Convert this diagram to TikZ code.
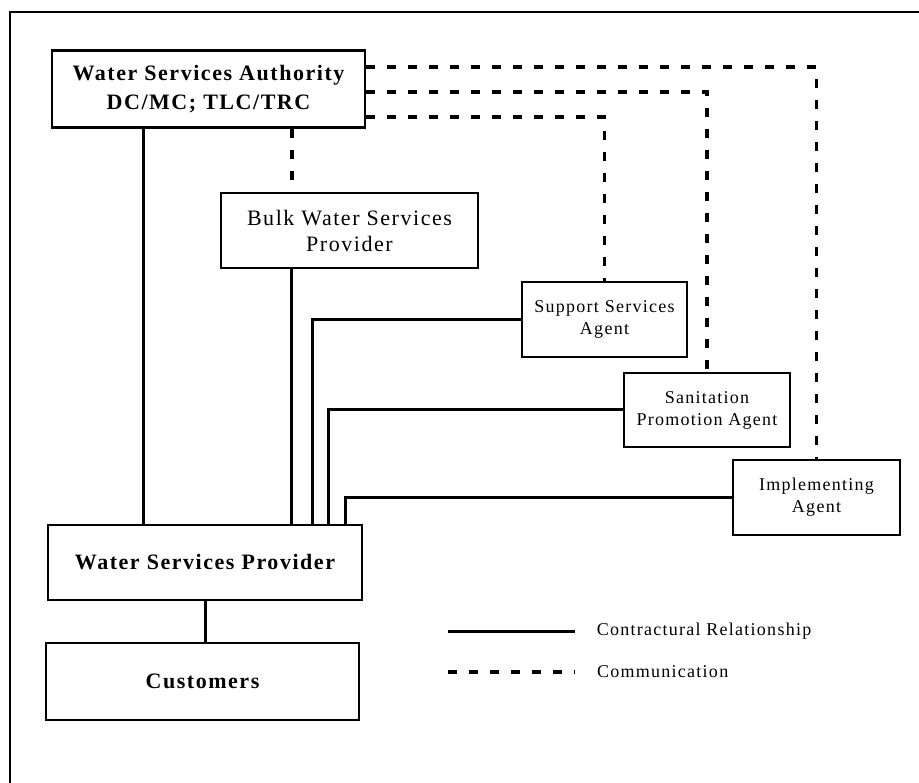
\documentclass[tikz,border=0pt]{standalone}
\usepackage{fontspec}
\setmainfont{Liberation Serif}[LetterSpace=7]
\usetikzlibrary{positioning}

\begin{document}
\begin{tikzpicture}[x=1pt,y=-1pt,
    box/.style={draw,line width=2.4pt,align=center,inner sep=0pt},
    bigtext/.style={font=\fontsize{22}{29}\selectfont\bfseries},
    midtext/.style={font=\fontsize{22}{26}\selectfont},
    smalltext/.style={font=\fontsize{18}{22}\selectfont},
    contract/.style={line width=3pt},
    comm/.style={line width=3.6pt,dash pattern=on 9pt off 12pt}]
\useasboundingbox (0,0) rectangle (919,783);
\draw[line width=1.2pt] (919,12) -- (10,12) -- (10,783);

% organisations
\node[box,bigtext,minimum width=313pt,minimum height=77pt]
    (wsa) at (208.5,89) {Water Services Authority\\DC/MC; TLC/TRC};
\node[box,midtext,minimum width=257pt,minimum height=75pt]
    (bwsp) at (349.5,230.5) {Bulk Water Services\\Provider};
\node[box,smalltext,minimum width=165pt,minimum height=75pt]
    (ssa) at (604.5,319.5) {Support Services\\Agent};
\node[box,smalltext,minimum width=166pt,minimum height=74pt]
    (spa) at (707,410) {Sanitation\\Promotion Agent};
\node[box,smalltext,minimum width=167pt,minimum height=75pt]
    (ia) at (816.5,497.5) {Implementing\\Agent};
\node[box,bigtext,minimum width=314pt,minimum height=75pt]
    (wsp) at (205,562.5) {Water Services Provider};
\node[box,bigtext,minimum width=313pt,minimum height=77pt]
    (cust) at (202.5,681.5) {Customers};

% contracts
\draw[contract] (143,0 |- wsa.south) -- (143,0 |- wsp.north);
\draw[contract] (291,0 |- bwsp.south) -- (291,0 |- wsp.north);
\draw[contract] (ssa.west) -| (312,0 |- wsp.north);
\draw[contract] (spa.west) -| (328,0 |- wsp.north);
\draw[contract] (ia.west) -| (345,0 |- wsp.north);
\draw[contract] (wsp.south) -- (wsp.south |- cust.north);

% communication
\draw[comm] (292,0 |- wsa.south) -- (292,0 |- bwsp.north);
\draw[comm] ([yshift=22pt]wsa.east) -| (ia.north);
\draw[comm] ([yshift=-3pt]wsa.east) -| (spa.north);
\draw[comm] ([yshift=-28pt]wsa.east) -| (ssa.north);

% legend
\coordinate (l1) at (448,631);
\coordinate (l2) at (448,672);
\draw[contract] (l1) -- +(127,0) node[right=17pt,smalltext] (lt1) {Contractural Relationship};
\draw[comm] (l2) -- +(127,0) node[right=17pt,smalltext] (lt2) {Communication};
\end{tikzpicture}
\end{document}
